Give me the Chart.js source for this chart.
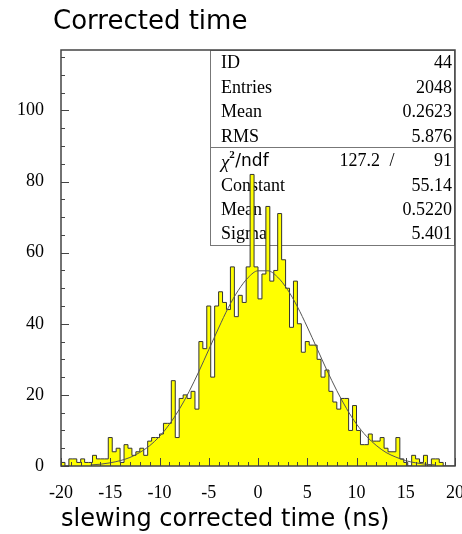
<!DOCTYPE html>
<html>
<head>
<meta charset="utf-8">
<script src="https://cdn.jsdelivr.net/npm/chart.js@4.4.1/dist/chart.umd.min.js"></script>
<style>
  html, body { margin: 0; padding: 0; background: #fff; }
</style>
</head>
<body>
<canvas id="c" width="462" height="534"></canvas>
<script>
// histogram: 100 bins of 0.4 ns between -20 and 20
const xMin = -20;
const xMax = 20;
const binWidth = 0.4;
const counts = [
  1, 0, 2, 2, 1, 2, 1, 1, 3, 2, 2, 2, 8, 4, 5, 1, 6, 5, 3, 4, 5, 3,
  7, 8, 8, 9, 12, 12, 24, 8, 19, 20, 19, 21, 16, 35, 33, 45, 25, 45, 49, 46, 44, 56, 42, 48, 46,
  56, 82, 56, 47, 54, 73, 52, 55, 71, 58, 50, 39, 52, 40, 32, 35,
  34, 34, 30, 25, 27, 21, 18, 16, 19, 19, 10, 17, 10, 6, 6, 9, 7, 7, 8,
  5, 4, 4, 8, 2, 1, 0, 3, 2, 1, 3, 0, 2, 2, 1, 0, 0, 0
];

// gaussian fit curve
const fitX = [-17, -16, -15, -14, -13, -12, -11, -10, -9, -8, -7, -6, -5, -4, -3, -2, -1,
  0, 1, 2, 3, 4, 5, 6, 7, 8, 9, 10, 11, 12, 13, 14, 15, 16, 17, 18];
const fitY = [0.3, 0.5, 0.9, 1.5, 2.4, 3.8, 5.7, 8.3, 11.7, 15.9, 20.9, 26.6, 32.7, 38.8, 44.6, 49.4, 53.0,
  54.9, 54.9, 53.1, 49.6, 44.8, 39.1, 33.0, 26.9, 21.2, 16.1, 11.8, 8.4, 5.8, 3.8, 2.5, 1.5, 0.9, 0.5, 0.3];

// stats box
const statLabels = ["ID", "Entries", "Mean", "RMS"];
const statValues = ["44", "2048", "0.2623", "5.876"];
const chi2 = "127.2";
const ndf = "91";
const fitLabels = ["Constant", "Mean", "Sigma"];
const fitValues = ["55.14", "0.5220", "5.401"];

const xStep = 5;
const yStep = 20;
const yMax = 117;

const titleText = "Corrected time";
const xTitle = "slewing corrected time (ns)";

const SERIF = '"Liberation Serif", "Times New Roman", serif';
const SANS = '"DejaVu Sans", sans-serif';

// step outline points at the low edge of each bin, plus the closing edge
const histPoints = counts.map((c, i) => ({ x: xMin + i * binWidth, y: c }));
histPoints.push({ x: xMax, y: counts[counts.length - 1] });

const fitPoints = fitX.map((x, i) => ({ x: x, y: fitY[i] }));

const statsBox = {
    id: "statsBox",
    beforeDatasetsDraw(chart) {
        const ctx = chart.ctx;
        const area = chart.chartArea;
        const left = 210, top = area.top, right = area.right, bottom = 245, mid = 147.5;
        ctx.save();
        ctx.strokeStyle = "#777";
        ctx.lineWidth = 1;
        ctx.strokeRect(left + 0.5, top + 0.5, right - left - 1, bottom - top);
        ctx.beginPath();
        ctx.moveTo(left, mid);
        ctx.lineTo(right, mid);
        ctx.stroke();

        ctx.fillStyle = "#000";
        ctx.font = "18px " + SERIF;
        ctx.textBaseline = "middle";
        const rows1 = [63, 88, 112, 137];
        statLabels.forEach((lab, i) => {
            ctx.textAlign = "left";
            ctx.fillText(lab, 221, rows1[i]);
            ctx.textAlign = "right";
            ctx.fillText(statValues[i], 452, rows1[i]);
        });

        // chi2 / ndf row
        const yc = 161.5;
        ctx.textAlign = "left";
        ctx.font = "italic 19px " + SERIF;
        ctx.fillText("\u03c7", 221, yc + 1);
        let w = ctx.measureText("\u03c7").width;
        ctx.font = "bold 11px " + SERIF;
        ctx.fillText("2", 221 + w, yc - 6);
        ctx.font = "17px " + SANS;
        ctx.fillText("/ndf", 221 + w + 6, yc);
        ctx.font = "18px " + SERIF;
        ctx.textAlign = "right";
        ctx.fillText(chi2, 380, yc);
        ctx.textAlign = "center";
        ctx.fillText("/", 392, yc);
        ctx.textAlign = "right";
        ctx.fillText(ndf, 452, yc);

        const rows2 = [186, 210, 234.5];
        fitLabels.forEach((lab, i) => {
            ctx.textAlign = "left";
            ctx.fillText(lab, 221, rows2[i]);
            ctx.textAlign = "right";
            ctx.fillText(fitValues[i], 452, rows2[i]);
        });
        ctx.restore();
    }
};

const frameTicks = {
    id: "frameTicks",
    afterDatasetsDraw(chart) {
        const ctx = chart.ctx;
        const area = chart.chartArea;
        const xs = chart.scales.x;
        const ys = chart.scales.y;
        ctx.save();
        ctx.strokeStyle = "#444";
        ctx.lineWidth = 1;
        ctx.beginPath();
        // x ticks: every 1 ns, long every 5
        for (let v = xMin; v <= xMax; v += 1) {
            const px = Math.round(xs.getPixelForValue(v)) + 0.5;
            const len = (v % xStep === 0) ? 8 : 4;
            ctx.moveTo(px, area.bottom);
            ctx.lineTo(px, area.bottom - len);
        }
        // y ticks: every 5, long every 20
        for (let v = 0; v <= yMax; v += 5) {
            const py = Math.round(ys.getPixelForValue(v)) + 0.5;
            const len = (v % yStep === 0) ? 8 : 4;
            ctx.moveTo(area.left, py);
            ctx.lineTo(area.left + len, py);
        }
        ctx.stroke();
        ctx.lineWidth = 1.5;
        ctx.strokeRect(area.left, area.top, area.right - area.left, area.bottom - area.top);
        ctx.restore();
    },
    afterDraw(chart) {
        const ctx = chart.ctx;
        ctx.save();
        ctx.fillStyle = "#000";
        ctx.font = "26px " + SANS;
        ctx.textAlign = "left";
        ctx.textBaseline = "alphabetic";
        ctx.fillText(titleText, 53, 29);
        ctx.restore();
    }
};

new Chart(document.getElementById("c"), {
    type: "line",
    data: {
        datasets: [
            {
                label: "fit",
                data: fitPoints,
                borderColor: "#555",
                borderWidth: 1,
                pointRadius: 0,
                cubicInterpolationMode: "monotone",
                fill: false,
                order: 0
            },
            {
                label: "hist",
                data: histPoints,
                stepped: "before",
                borderColor: "#333",
                borderWidth: 1,
                backgroundColor: "#ffff00",
                pointRadius: 0,
                fill: "origin",
                order: 1
            }
        ]
    },
    options: {
        responsive: false,
        animation: false,
        devicePixelRatio: 1,
        layout: { padding: { top: 50, right: 7, left: 0, bottom: 0 } },
        plugins: {
            legend: { display: false },
            tooltip: { enabled: false },
            title: { display: false }
        },
        scales: {
            x: {
                type: "linear",
                min: xMin,
                max: xMax,
                grid: { display: false },
                border: { display: false },
                ticks: {
                    stepSize: xStep,
                    padding: 8,
                    color: "#000",
                    maxRotation: 0,
                    font: { family: SERIF, size: 18 }
                },
                title: {
                    display: true,
                    text: xTitle,
                    align: "start",
                    color: "#000",
                    padding: { top: 0, bottom: 0 },
                    font: { family: SANS, size: 24 }
                },
                afterFit(s) {
                    s.height = 68;
                    s.paddingLeft = 0;
                    s.paddingRight = 0;
                }
            },
            y: {
                type: "linear",
                min: 0,
                max: yMax,
                grid: { display: false },
                border: { display: false },
                ticks: {
                    stepSize: yStep,
                    includeBounds: false,
                    padding: 9,
                    color: "#000",
                    font: { family: SERIF, size: 18 }
                },
                afterFit(s) {
                    s.width = 61;
                    s.paddingTop = 0;
                    s.paddingBottom = 0;
                }
            }
        }
    },
    plugins: [statsBox, frameTicks]
});
</script>
</body>
</html>
